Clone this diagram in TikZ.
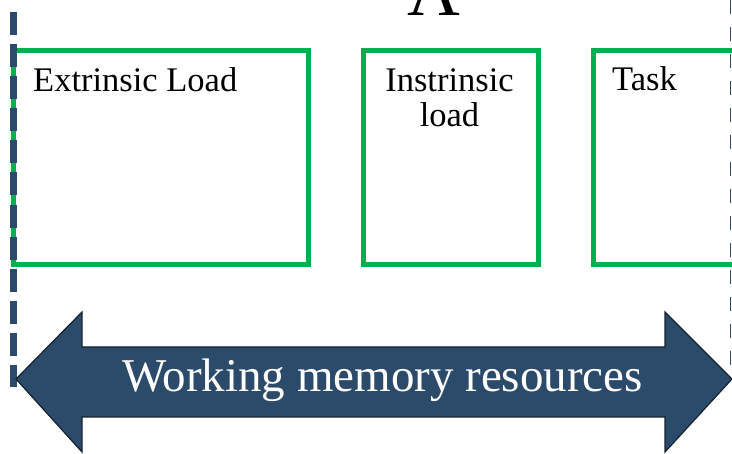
\documentclass[tikz,border=0pt]{standalone}
\usepackage{fontspec}
\setmainfont{Liberation Serif}
\definecolor{boxgreen}{HTML}{00B050}
\definecolor{navy}{HTML}{2C4A6A}
\definecolor{navyline}{HTML}{15222F}
\begin{document}
\begin{tikzpicture}[x=1pt,y=-1pt,
  loadbox/.style={draw=boxgreen, line width=5pt},
  lbl/.style={inner sep=0pt, font=\fontsize{34.5}{31}\selectfont},
  bigarrow/.style={fill=navy, draw=navyline, line width=1.2pt, line join=miter},
  leftdash/.style={draw=navy, line width=7pt, dash pattern=on 23pt off 9.1pt},
  rightdash/.style={draw=navy, line width=1.8pt, dash pattern=on 14pt off 13pt},
]
\useasboundingbox (0,0) rectangle (732,454);
\clip (0,0) rectangle (732,454);

% heading letter, cut off at the top
\node[anchor=base, inner sep=0pt, font=\fontsize{73}{73}\selectfont] (A) at (433.5,16) {A};

% load boxes
\draw[loadbox] (13,51) rectangle (308,264.5);
\draw[loadbox] (363,51) rectangle (538,264.5);
\draw[loadbox] (593,51) rectangle (780,264.5);

\node[lbl, anchor=base west] (ext) at (33,92) {Extrinsic Load};
\node[lbl, anchor=base] (intr1) at (449.5,92) {Instrinsic};
\node[lbl, anchor=base] (intr2) at (449.5,127) {load};
\node[lbl, anchor=base west] (task) at (612,91) {Task};

% dashed borders
\coordinate (ltop) at (13,12);
\coordinate (lbot) at (13,387);
\coordinate (rtop) at (730.5,0);
\coordinate (rbot) at (730.5,374);
\draw[leftdash] (ltop) -- (lbot);
\draw[rightdash] (rtop) -- (rbot);

% double arrow
\draw[bigarrow] (16,379) -- (82,312) -- (82,347) -- (665,347) -- (665,312)
  -- (732,379) -- (665,452) -- (665,417) -- (82,417) -- (82,452) -- cycle;
\node[inner sep=0pt, anchor=base, text=white, font=\fontsize{47}{47}\selectfont] (wm) at (382.5,392) {Working memory resources};
\end{tikzpicture}
\end{document}
